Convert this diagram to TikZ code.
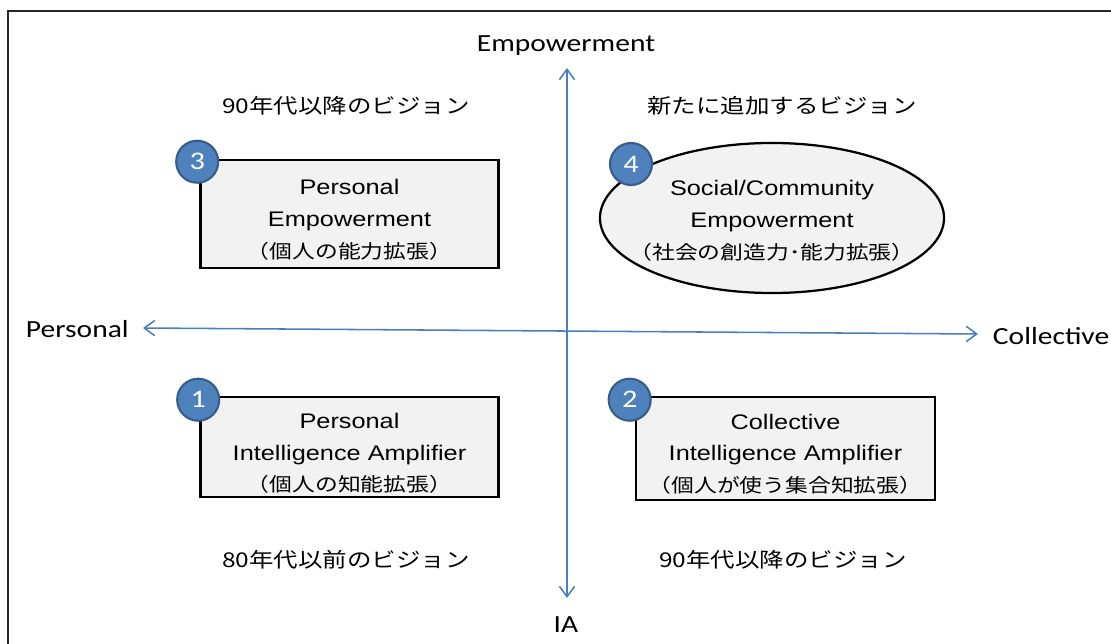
\documentclass[tikz,border=0pt]{standalone}
\usepackage{fontspec}
\setmainfont[FakeStretch=1.2]{Carlito}
\newfontfamily\arialfont[FakeStretch=1.2]{Liberation Sans}
\newfontfamily\jpfont[FakeStretch=1.2]{Noto Sans CJK JP}
\usetikzlibrary{positioning,shapes.geometric,arrows.meta}
\definecolor{axisblue}{RGB}{74,126,193}
\definecolor{badgeblue}{RGB}{79,129,189}
\definecolor{badgeline}{RGB}{56,93,138}
\definecolor{boxgray}{RGB}{242,242,242}
\newcommand{\jpline}{\jpfont\fontsize{13.5}{22.5}\selectfont}

\begin{document}
\begin{tikzpicture}[
  x=0.025cm,
  y=-0.025cm,
  axis/.style={
    draw=axisblue,
    line width=1.1pt,
    {Straight Barb[length=2.6mm,width=3.8mm]}-{Straight Barb[length=2.6mm,width=3.8mm]}
    },
  axislabel/.style={
    font=\fontsize{17.5}{20}\selectfont
    },
  era/.style={
    font=\jpfont\fontsize{14.5}{18}\selectfont
    },
  quadbox/.style={
    draw,
    line width=1.8pt,
    fill=boxgray,
    align=center,
    inner sep=0pt,
    minimum width=7.45cm,
    minimum height=2.6cm,
    font=\arialfont\fontsize{15}{22.5}\selectfont
    },
  quadoval/.style={
    draw,
    line width=1.6pt,
    fill=boxgray,
    ellipse,
    inner sep=0pt,
    minimum width=8.6cm,
    minimum height=3.75cm
    },
  ovaltext/.style={
    align=center,
    inner sep=0pt,
    font=\arialfont\fontsize{15}{22.5}\selectfont
    },
  badge/.style={
    circle,
    draw=badgeline,
    line width=1.5pt,
    fill=badgeblue,
    text=white,
    minimum size=1.05cm,
    inner sep=0pt,
    font=\fontsize{18}{18}\selectfont
    }
]
\useasboundingbox (0,0) rectangle (1111,644);

% frame
\draw[line width=1pt, black!85] (8,644) -- (8,11) -- (1111,11);

% axes
\coordinate (up) at (567,68);
\coordinate (down) at (567,598);
\coordinate (left) at (143,328);
\coordinate (right) at (978,334);
\draw[axis] (down) -- (up);
\draw[axis] (left) -- (right);

\node[axislabel] (empower) at (566,46) {Empowerment};
\node[axislabel] (ia) at (566,625) {IA};
\node[axislabel, anchor=west] (personal) at (21,329) {Personal};
\node[axislabel, anchor=west] (collective) at (988,336) {Collective};

% era captions
\node[era] (era3) at (346,106) {90年代以降のビジョン};
\node[era] (era4) at (782,106) {新たに追加するビジョン};
\node[era] (era1) at (346,560) {80年代以前のビジョン};
\node[era] (era2) at (783,560) {90年代以降のビジョン};

% quadrants
\node[quadbox, minimum height=2.7cm] (box3) at (349.5,214)
  {\rule{0pt}{19pt}Personal\\Empowerment\\{\jpline （個人の能力拡張）}};
\node[quadoval] (box4) at (772,218) {};
\node[ovaltext] (text4) at ([yshift=-2pt]box4.center)
  {Social/Community\\Empowerment\\{\jpline （社会の創造力･能力拡張）}};
\node[quadbox, minimum height=2.5cm] (box1) at (349.5,447)
  {\rule{0pt}{20pt}Personal\\Intelligence Amplifier\\{\jpline （個人の知能拡張）}};
\node[quadbox, minimum width=7.475cm, minimum height=2.575cm] (box2) at (785.5,448.5)
  {\rule{0pt}{19pt}Collective\\Intelligence Amplifier\\{\jpline （個人が使う集合知拡張）}};

% numbers
\node[badge] (n3) at ([shift={(-2,3)}]box3.north west) {3};
\node[badge] (n4) at (631,164) {4};
\node[badge] (n1) at ([shift={(-1,4)}]box1.north west) {1};
\node[badge] (n2) at ([shift={(-5,4)}]box2.north west) {2};

\end{tikzpicture}
\end{document}
